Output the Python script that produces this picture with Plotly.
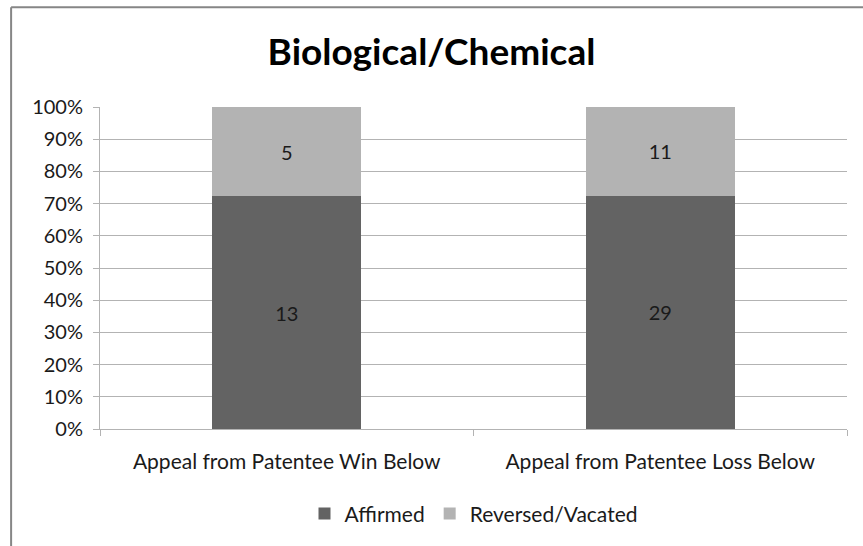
import plotly.graph_objects as go

categories = ["Appeal from Patentee Win Below", "Appeal from Patentee Loss Below"]
affirmed = [13, 29]
reversed_vacated = [5, 11]

FONT = "Lato, Open Sans, sans-serif"
GRID = "#B3B3B3"

fig = go.Figure()
fig.add_trace(go.Bar(
    x=categories, y=affirmed, name="Affirmed",
    marker=dict(color="#636363", line=dict(width=0)),
    text=[str(v) for v in affirmed], textposition="inside",
    insidetextanchor="middle", textfont=dict(color="#1a1a1a", size=20),
))
fig.add_trace(go.Bar(
    x=categories, y=reversed_vacated, name="Reversed/Vacated",
    marker=dict(color="#B3B3B3", line=dict(width=0)),
    text=[str(v) for v in reversed_vacated], textposition="inside",
    insidetextanchor="middle", textfont=dict(color="#1a1a1a", size=20),
))

fig.update_layout(
    width=863, height=546,
    barmode="stack", barnorm="percent", bargap=0.6,
    plot_bgcolor="white", paper_bgcolor="white",
    font=dict(family=FONT, color="#1a1a1a", size=20),
    margin=dict(l=100, r=16, t=107, b=113),
    title=dict(text="<b>Biological/Chemical</b>", x=0.5, xanchor="center",
               y=0.905, yanchor="middle", font=dict(size=37, color="black")),
    legend=dict(orientation="h", x=0.5, xanchor="center", y=-0.2, yanchor="top",
                font=dict(size=21), traceorder="normal", itemwidth=30),
    uniformtext=dict(minsize=10, mode="show"),
)
fig.update_yaxes(
    range=[0, 100], dtick=10, ticksuffix="%", showgrid=True, gridcolor=GRID,
    gridwidth=1, showline=True, linecolor=GRID, ticks="outside", ticklen=6,
    tickcolor=GRID, zeroline=False, tickfont=dict(size=20), ticklabelstandoff=6,
)
fig.update_xaxes(
    showline=True, linecolor=GRID, ticks="outside", ticklen=6, tickcolor=GRID,
    tickson="boundaries", tickfont=dict(size=21), ticklabelstandoff=14,
)
# chart border (cropped frame)
fig.add_shape(type="line", xref="paper", yref="paper", x0=-0.119, x1=-0.119,
              y0=-0.4, y1=1.31, line=dict(color="#868686", width=2))
fig.add_shape(type="line", xref="paper", yref="paper", x0=-0.119, x1=1.1,
              y0=1.31, y1=1.31, line=dict(color="#868686", width=2))

fig.write_html("out.html", config={"displayModeBar": False},
               post_script="document.body.style.margin='0';")
